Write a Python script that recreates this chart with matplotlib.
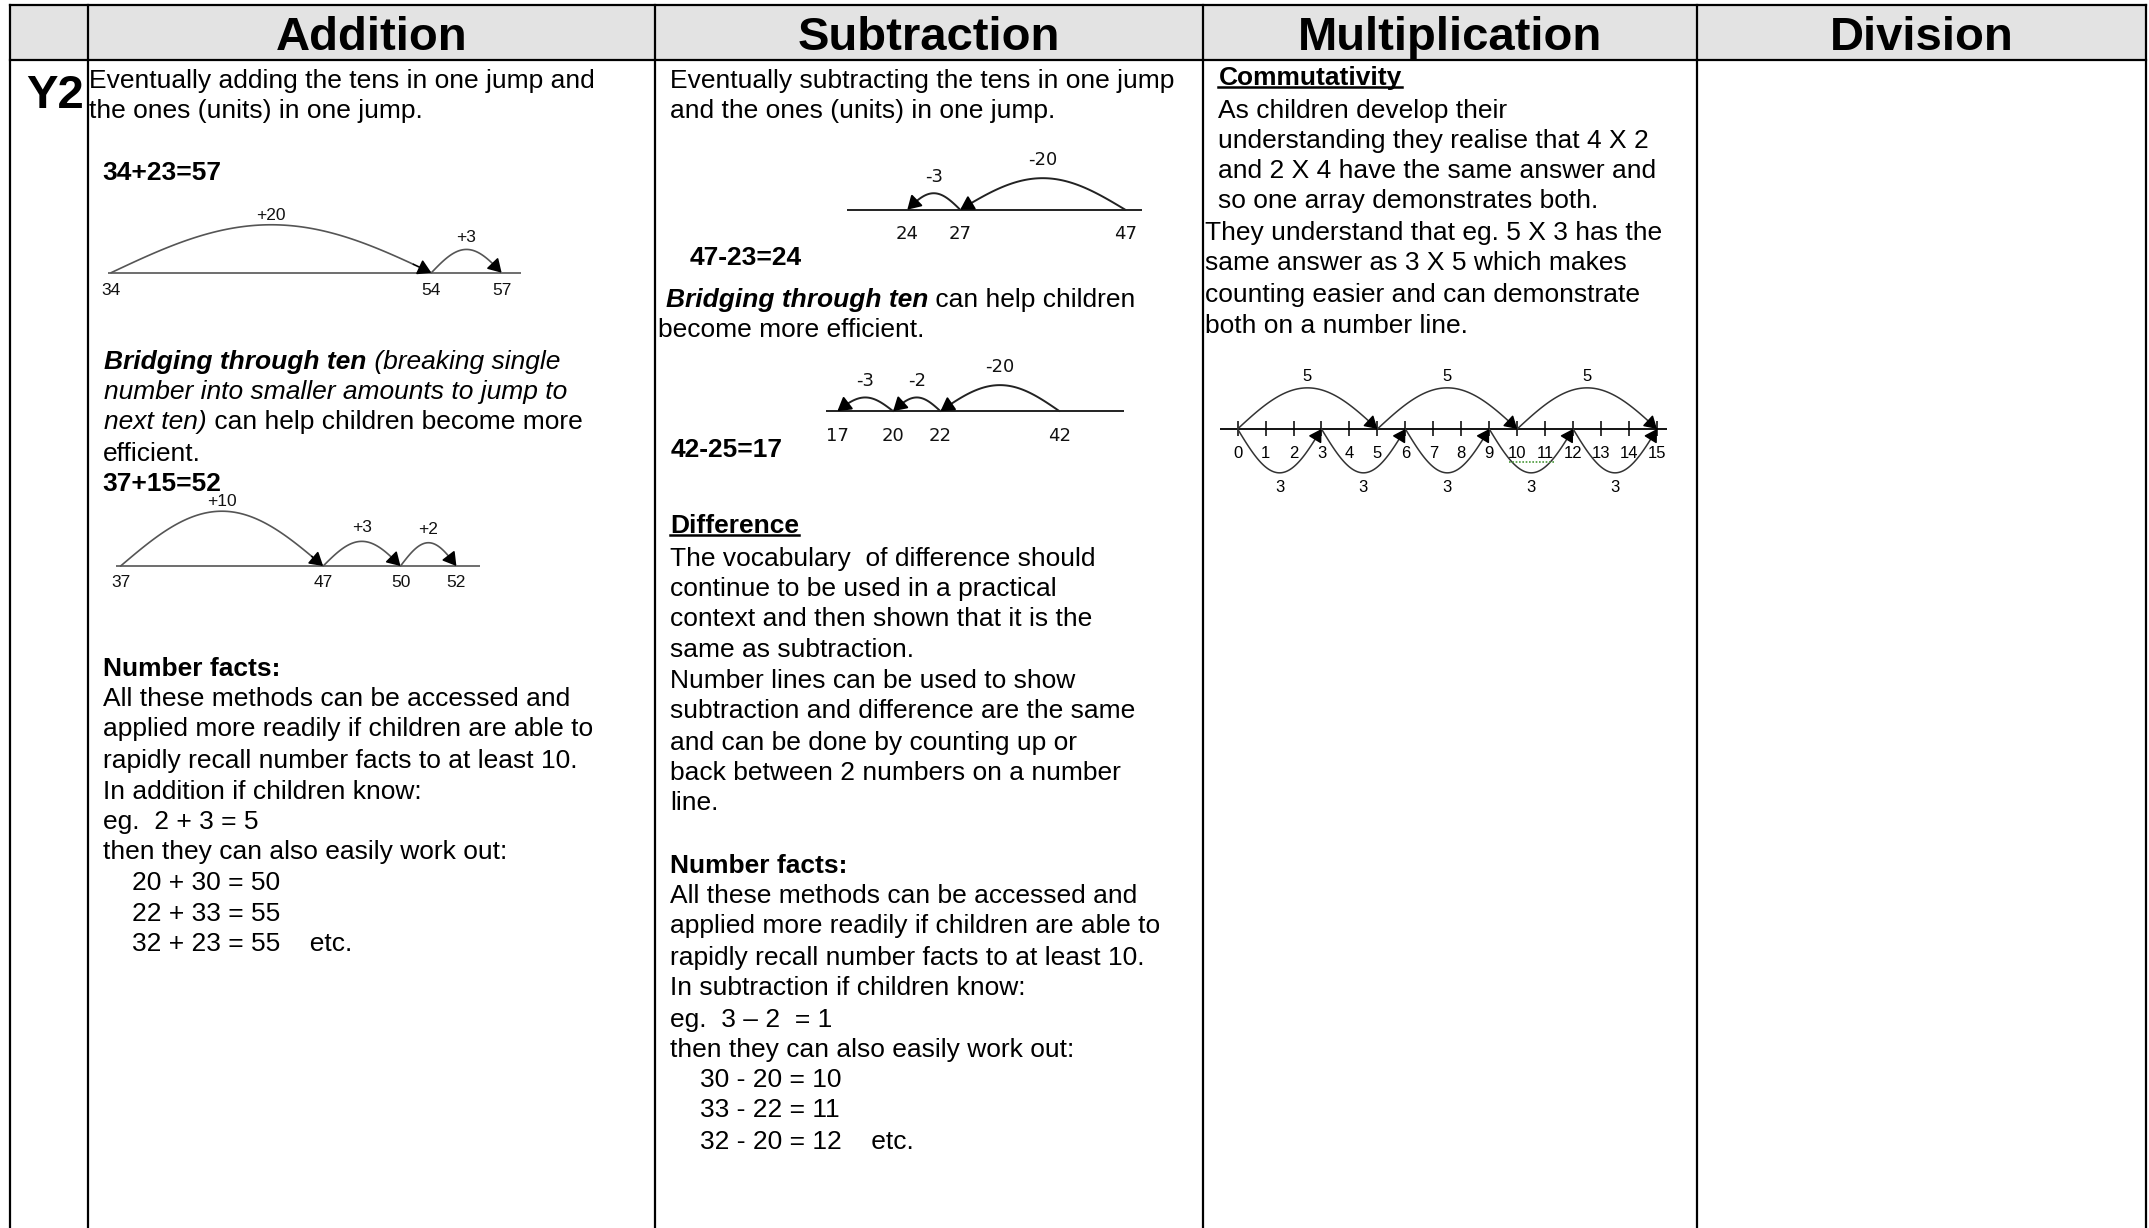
import numpy as np
import matplotlib
matplotlib.use("Agg")
import matplotlib.pyplot as plt
from matplotlib.patches import Rectangle

W, H = 2149, 1228
S = W / 1568.0          # layout below is measured on a 1568-wide copy
FAM = "Liberation Sans"

# ---------------- data ----------------
headers = ["Addition", "Subtraction", "Multiplication", "Division"]
row_label = "Y2"

add_jumps_1 = [34, 54, 57]
add_jumps_2 = [37, 47, 50, 52]
sub_jumps_1 = [47, 27, 24]
sub_jumps_2 = [42, 22, 20, 17]

mult_ticks = [0, 1, 2, 3, 4, 5, 6, 7, 8, 9, 10, 11, 12, 13, 14, 15]
mult_fives = [0, 5, 10, 15]
mult_threes = [0, 3, 6, 9, 12, 15]

add_facts = ["20 + 30 = 50", "22 + 33 = 55", "32 + 23 = 55    etc."]
sub_facts = ["30 - 20 = 10", "33 - 22 = 11", "32 - 20 = 12    etc."]

add_text = [
    (65, 57, [("Eventually adding the tens in one jump and", "n")]),
    (65, 79, [("the ones (units) in one jump.", "n")]),
    (75, 124, [("34+23=57", "b")]),
    (76, 262, [("Bridging through ten", "bi"), (" (breaking single", "i")]),
    (76, 284, [("number into smaller amounts to jump to", "i")]),
    (76, 306, [("next ten)", "i"), (" can help children become more", "n")]),
    (75, 329, [("efficient.", "n")]),
    (75, 351, [("37+15=52", "b")]),
    (75, 486, [("Number facts:", "b")]),
    (75, 508, [("All these methods can be accessed and", "n")]),
    (75, 530, [("applied more readily if children are able to", "n")]),
    (75, 553, [("rapidly recall number facts to at least 10.", "n")]),
    (75, 576, [("In addition if children know:", "n")]),
    (75, 598, [("eg.  2 + 3 = 5", "n")]),
    (75, 620, [("then they can also easily work out:", "n")]),
    (96, 642, [(add_facts[0], "n")]),
    (96, 665, [(add_facts[1], "n")]),
    (96, 687, [(add_facts[2], "n")]),
]

sub_text = [
    (489, 57, [("Eventually subtracting the tens in one jump", "n")]),
    (489, 79, [("and the ones (units) in one jump.", "n")]),
    (503, 186, [("47-23=24", "b")]),
    (486, 217, [("Bridging through ten", "bi"), (" can help children", "n")]),
    (480, 239, [("become more efficient.", "n")]),
    (489, 326, [("42-25=17", "b")]),
    (489, 382, [("Difference", "bu")]),
    (489, 406, [("The vocabulary  of difference should", "n")]),
    (489, 428, [("continue to be used in a practical", "n")]),
    (489, 450, [("context and then shown that it is the", "n")]),
    (489, 472, [("same as subtraction.", "n")]),
    (489, 495, [("Number lines can be used to show", "n")]),
    (489, 517, [("subtraction and difference are the same", "n")]),
    (489, 540, [("and can be done by counting up or", "n")]),
    (489, 562, [("back between 2 numbers on a number", "n")]),
    (489, 584, [("line.", "n")]),
    (489, 630, [("Number facts:", "b")]),
    (489, 652, [("All these methods can be accessed and", "n")]),
    (489, 674, [("applied more readily if children are able to", "n")]),
    (489, 697, [("rapidly recall number facts to at least 10.", "n")]),
    (489, 719, [("In subtraction if children know:", "n")]),
    (489, 742, [("eg.  3 \u2013 2  = 1", "n")]),
    (489, 764, [("then they can also easily work out:", "n")]),
    (511, 786, [(sub_facts[0], "n")]),
    (511, 808, [(sub_facts[1], "n")]),
    (511, 831, [(sub_facts[2], "n")]),
]

mult_text = [
    (889, 55, [("Commutativity", "bu")]),
    (889, 79, [("As children develop their", "n")]),
    (889, 101, [("understanding they realise that 4 X 2", "n")]),
    (889, 123, [("and 2 X 4 have the same answer and", "n")]),
    (889, 145, [("so one array demonstrates both.", "n")]),
    (879, 168, [("They understand that eg. 5 X 3 has the", "n")]),
    (879, 190, [("same answer as 3 X 5 which makes", "n")]),
    (879, 213, [("counting easier and can demonstrate", "n")]),
    (879, 236, [("both on a number line.", "n")]),
]

# ---------------- figure / table ----------------
fig = plt.figure(figsize=(W / 100, H / 100), dpi=100)
ax = fig.add_axes([0, 0, 1, 1])
ax.set_xlim(0, W)
ax.set_ylim(H, 0)
ax.axis("off")

col_x = [7 * S, 64 * S, 478 * S, 878 * S, 1238 * S, 1566 * S]
y_top, y_head = 4 * S, 44 * S
LW = 1.6
DY = 2.0   # small downward nudge for body text (shrunk units)

ax.add_patch(Rectangle((col_x[0], y_top), col_x[-1] - col_x[0], y_head - y_top,
                       fc="#e3e3e3", ec="none", zorder=0))
ax.plot([col_x[0], col_x[-1]], [y_top, y_top], color="black", lw=LW)
ax.plot([col_x[0], col_x[-1]], [y_head, y_head], color="black", lw=LW)
for cx in col_x:
    ax.plot([cx, cx], [y_top, H], color="black", lw=LW)

for i, htxt in enumerate(headers):
    ax.text((col_x[i + 1] + col_x[i + 2]) / 2, (y_top + y_head) / 2 + 4 * S, htxt,
            ha="center", va="center", fontsize=34, fontweight="bold", family=FAM)

ax.text(19 * S, 70 * S, row_label, ha="left", va="center", fontsize=34,
        fontweight="bold", family=FAM)

# ---------------- body text ----------------
underlines = []


def put(x, y, segs, size=19):
    prev = None
    for txt, st in segs:
        kw = dict(fontsize=size, family=FAM, color="black",
                  fontweight="bold" if "b" in st else "normal",
                  fontstyle="italic" if "i" in st else "normal")
        if prev is None:
            t = ax.text(x * S, (y + DY) * S, txt, ha="left", va="center", **kw)
        else:
            t = ax.annotate(txt, xy=(1, 0), xycoords=prev, ha="left", va="bottom", **kw)
        if "u" in st:
            underlines.append(t)
        prev = t


for block in (add_text, sub_text, mult_text):
    for x, y, segs in block:
        put(x, y, segs)


# ---------------- number lines ----------------
def inset(x0, x1, yline, above=70, below=50):
    X0, X1, Y = x0 * S, x1 * S, yline * S
    A, B = above * S, below * S
    a = fig.add_axes([X0 / W, (H - (Y + B)) / H, (X1 - X0) / W, (A + B) / H])
    a.set_ylim(-B, A)
    a.axis("off")
    a.patch.set_visible(False)
    return a


def make_scale(vals, p):
    v = np.array(sorted(set(vals)), float)
    u = np.concatenate([[0.0], np.cumsum(np.diff(v) ** p)])
    s0 = (u[1] - u[0]) / (v[1] - v[0])
    s1 = (u[-1] - u[-2]) / (v[-1] - v[-2])

    def fwd(x):
        x = np.asarray(x, float)
        y = np.interp(x, v, u)
        y = np.where(x < v[0], u[0] + (x - v[0]) * s0, y)
        y = np.where(x > v[-1], u[-1] + (x - v[-1]) * s1, y)
        return y

    def inv(y):
        y = np.asarray(y, float)
        x = np.interp(y, u, v)
        x = np.where(y < u[0], v[0] + (y - u[0]) / s0, x)
        x = np.where(y > u[-1], v[-1] + (y - u[-1]) / s1, x)
        return x

    return fwd, inv, u


def arc(a, fwd, inv, start, end, h, color, lw, ms):
    ua, ub = float(fwd(start)), float(fwd(end))
    s = np.linspace(ua, ub, 90)
    xs = inv(s)
    ys = h * np.sin(np.pi * (s - ua) / (ub - ua))
    a.plot(xs[:-5], ys[:-5], color=color, lw=lw, clip_on=False, solid_capstyle="round")
    a.annotate("", xy=(xs[-1], ys[-1]), xytext=(xs[-6], ys[-6]),
               arrowprops=dict(arrowstyle="-|>,head_length=0.5,head_width=0.3",
                               color="black", lw=lw,
                               mutation_scale=ms, shrinkA=0, shrinkB=0))
    return float(inv((ua + ub) / 2))


def empty_line(points, p, line_x, vpx, yline, heights, lab_dy, arc_dy,
               font, fsize, color, lw):
    a = inset(line_x[0], line_x[1], yline)
    fwd, inv, u = make_scale(points, p)
    a.set_xscale("function", functions=(fwd, inv))
    k = (u[-1] - u[0]) / ((vpx[1] - vpx[0]) * S)
    a.set_xlim(float(inv(u[0] - (vpx[0] - line_x[0]) * S * k)),
               float(inv(u[-1] + (line_x[1] - vpx[1]) * S * k)))
    a.axhline(0, color=color, lw=lw)
    for v in points:
        a.text(v, -lab_dy * S, str(v), ha="center", va="center", fontsize=fsize,
               family=font, color="#111111", clip_on=False)
    for (st, en), h, dy in zip(zip(points[:-1], points[1:]), heights, arc_dy):
        xm = arc(a, fwd, inv, st, en, h * S, color, lw, 16)
        a.text(xm, (h + dy) * S, f"{en - st:+d}", ha="center", va="center",
               fontsize=fsize, family=font, color="#111111", clip_on=False)


empty_line(add_jumps_1, 0.8, (79, 380), (81, 366), 199, [35, 17], 13, [7, 9],
           FAM, 12.5, "#555555", 1.2)
empty_line(add_jumps_2, 0.8, (85, 350), (88, 333), 413, [40, 18, 17], 12, [7, 10, 10],
           FAM, 12.5, "#555555", 1.2)
empty_line(sub_jumps_1, 0.6, (618, 833), (662, 821), 153, [23, 12], 18, [13, 12],
           "DejaVu Sans", 13, "#222222", 1.4)
empty_line(sub_jumps_2, 0.4, (603, 820), (611, 773), 300, [19, 10, 10], 18, [13, 12, 12],
           "DejaVu Sans", 13, "#222222", 1.4)

# multiplication number line (linear)
m0, m15, mx0, mx1, my = 903, 1209, 890, 1216, 313
am = inset(mx0, mx1, my)
kpx = (m15 - m0) / (mult_ticks[-1] - mult_ticks[0])
am.set_xlim(mult_ticks[0] - (m0 - mx0) / kpx, mult_ticks[-1] + (mx1 - m15) / kpx)
am.axhline(0, color="black", lw=1.3)
am.vlines(mult_ticks, -5 * S, 6 * S, color="black", lw=1.1)
for v in mult_ticks:
    am.text(v, -18 * S, str(v), ha="center", va="center", fontsize=12,
            family=FAM, clip_on=False)
fwd_l = lambda x: np.asarray(x, float)
for st, en in zip(mult_fives[:-1], mult_fives[1:]):
    xm = arc(am, fwd_l, fwd_l, st, en, 30 * S, "#333333", 1.1, 15)
    am.text(xm, 38 * S, str(en - st), ha="center", va="center", fontsize=12, family=FAM)
for st, en in zip(mult_threes[:-1], mult_threes[1:]):
    xm = arc(am, fwd_l, fwd_l, st, en, -32 * S, "#333333", 1.1, 15)
    am.text(xm, -43 * S, str(en - st), ha="center", va="center", fontsize=12, family=FAM)
am.plot([9.7, 11.3], [-24 * S, -24 * S], color="#4a9a3a", lw=1.2, ls=(0, (1, 1)))

# ---------------- underlines ----------------
fig.canvas.draw()
r = fig.canvas.get_renderer()
invt = ax.transData.inverted()
for t in underlines:
    bb = t.get_window_extent(r)
    (xa, ya), (xb, yb) = invt.transform([[bb.x0, bb.y0], [bb.x1, bb.y1]])
    ybot, ytop = max(ya, yb), min(ya, yb)
    yu = ybot - 0.12 * (ybot - ytop)
    ax.plot([xa, xb], [yu, yu], color="black", lw=1.8)

fig.savefig("out.png", dpi=100)
